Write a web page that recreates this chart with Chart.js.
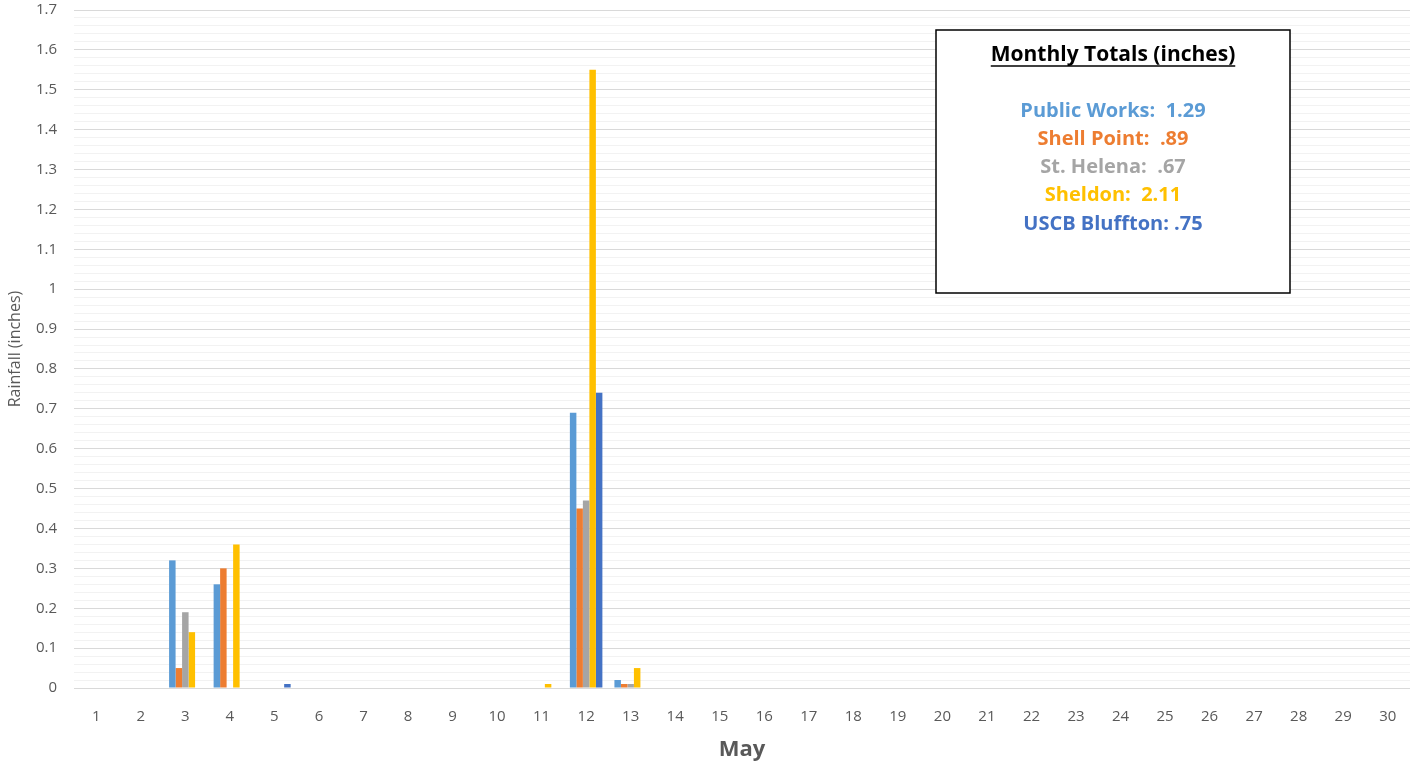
<!DOCTYPE html>
<html>
<head>
<meta charset="utf-8">
<script src="https://cdn.jsdelivr.net/npm/chart.js@4"></script>
<style>
  html, body { margin: 0; padding: 0; background: #fff; }
  #wrap { width: 1410px; height: 763px; }
</style>
</head>
<body>
<div id="wrap"><canvas id="myChart"></canvas></div>
<script>
// daily rainfall, May
const days = Array.from({ length: 30 }, (_, i) => String(i + 1));

const publicWorks  = [0, 0, 0.32, 0.26, 0, 0, 0, 0, 0, 0, 0, 0.69, 0.02, 0, 0, 0, 0, 0, 0, 0, 0, 0, 0, 0, 0, 0, 0, 0, 0, 0];
const shellPoint   = [0, 0, 0.05, 0.30, 0, 0, 0, 0, 0, 0, 0, 0.45, 0.01, 0, 0, 0, 0, 0, 0, 0, 0, 0, 0, 0, 0, 0, 0, 0, 0, 0];
const stHelena     = [0, 0, 0.19, 0,    0, 0, 0, 0, 0, 0, 0, 0.47, 0.01, 0, 0, 0, 0, 0, 0, 0, 0, 0, 0, 0, 0, 0, 0, 0, 0, 0];
const sheldon      = [0, 0, 0.14, 0.36, 0, 0, 0, 0, 0, 0, 0.01, 1.55, 0.05, 0, 0, 0, 0, 0, 0, 0, 0, 0, 0, 0, 0, 0, 0, 0, 0, 0];
const uscbBluffton = [0, 0, 0,    0,    0.01, 0, 0, 0, 0, 0, 0, 0.74, 0, 0, 0, 0, 0, 0, 0, 0, 0, 0, 0, 0, 0, 0, 0, 0, 0, 0];

const seriesNames  = ["Public Works", "Shell Point", "St. Helena", "Sheldon", "USCB Bluffton"];
const seriesColors = ["#5B9BD5", "#ED7D31", "#A5A5A5", "#FFC000", "#4472C4"];
const totalsText   = ["Public Works:  1.29", "Shell Point:  .89", "St. Helena:  .67", "Sheldon:  2.11", "USCB Bluffton: .75"];

const FONT = "'Open Sans', 'Liberation Sans', sans-serif";

// the "Monthly Totals" box
const totalsBox = {
  id: "totalsBox",
  afterDraw(chart) {
    const ctx = chart.ctx;
    ctx.save();
    ctx.fillStyle = "#fff";
    ctx.fillRect(936, 30, 354, 263);
    ctx.strokeStyle = "#000";
    ctx.lineWidth = 1.5;
    ctx.strokeRect(936, 30, 354, 263);

    const cx = 1113;
    ctx.textAlign = "center";
    ctx.textBaseline = "middle";
    ctx.fillStyle = "#000";
    ctx.font = "bold 21px " + FONT;
    const title = "Monthly Totals (inches)";
    ctx.fillText(title, cx, 55);
    const w = ctx.measureText(title).width;
    ctx.lineWidth = 1.5;
    ctx.beginPath();
    ctx.moveTo(cx - w / 2, 66);
    ctx.lineTo(cx + w / 2, 66);
    ctx.stroke();

    ctx.font = "bold 20px " + FONT;
    totalsText.forEach((t, i) => {
      ctx.fillStyle = seriesColors[i];
      ctx.fillText(t, cx, 111 + i * 28.25);
    });
    ctx.restore();
  }
};

const ctx = document.getElementById("myChart");
const myChart = new Chart(ctx, {
  type: "bar",
  data: {
    labels: days,
    datasets: [publicWorks, shellPoint, stHelena, sheldon, uscbBluffton].map((d, i) => ({
      label: seriesNames[i],
      data: d,
      backgroundColor: seriesColors[i],
      borderWidth: 0,
      categoryPercentage: 0.73,
      barPercentage: 1.0,
    })),
  },
  options: {
    responsive: true,
    maintainAspectRatio: false,
    animation: false,
    layout: { padding: { top: 0, right: 0, bottom: 0, left: 0 } },
    plugins: {
      legend: { display: false },
      tooltip: { enabled: false },
    },
    scales: {
      x: {
        grid: { display: false },
        border: { display: false },
        ticks: { color: "#595959", font: { family: FONT, size: 15 }, padding: 12, maxRotation: 0, autoSkip: false },
        title: {
          display: true,
          text: "May",
          color: "#595959",
          font: { family: FONT, size: 22, weight: "bold" },
          padding: { top: 0, bottom: 0 },
        },
        afterFit(scale) { scale.height = 75; },
      },
      y: {
        min: 0,
        max: 1.7,
        border: { display: false },
        grid: {
          drawTicks: true,
          tickLength: 16,
          tickColor: "rgba(0,0,0,0)",
          color: c => (Math.round(c.tick.value * 50) % 5 === 0 ? "#D9D9D9" : "#F2F2F2"),
          lineWidth: 1,
        },
        ticks: {
          stepSize: 0.02,
          autoSkip: false,
          padding: 1,
          color: "#595959",
          font: { family: FONT, size: 15 },
          callback: v => {
            const k = Math.round(v * 50);
            return k % 5 === 0 ? String(k / 50) : "";
          },
        },
        title: {
          display: true,
          text: "Rainfall (inches)",
          color: "#595959",
          font: { family: FONT, size: 16 },
          padding: { top: 6, bottom: 0 },
        },
        afterFit(scale) { scale.width = 74; },
      },
    },
  },
  plugins: [totalsBox],
});
</script>
</body>
</html>
